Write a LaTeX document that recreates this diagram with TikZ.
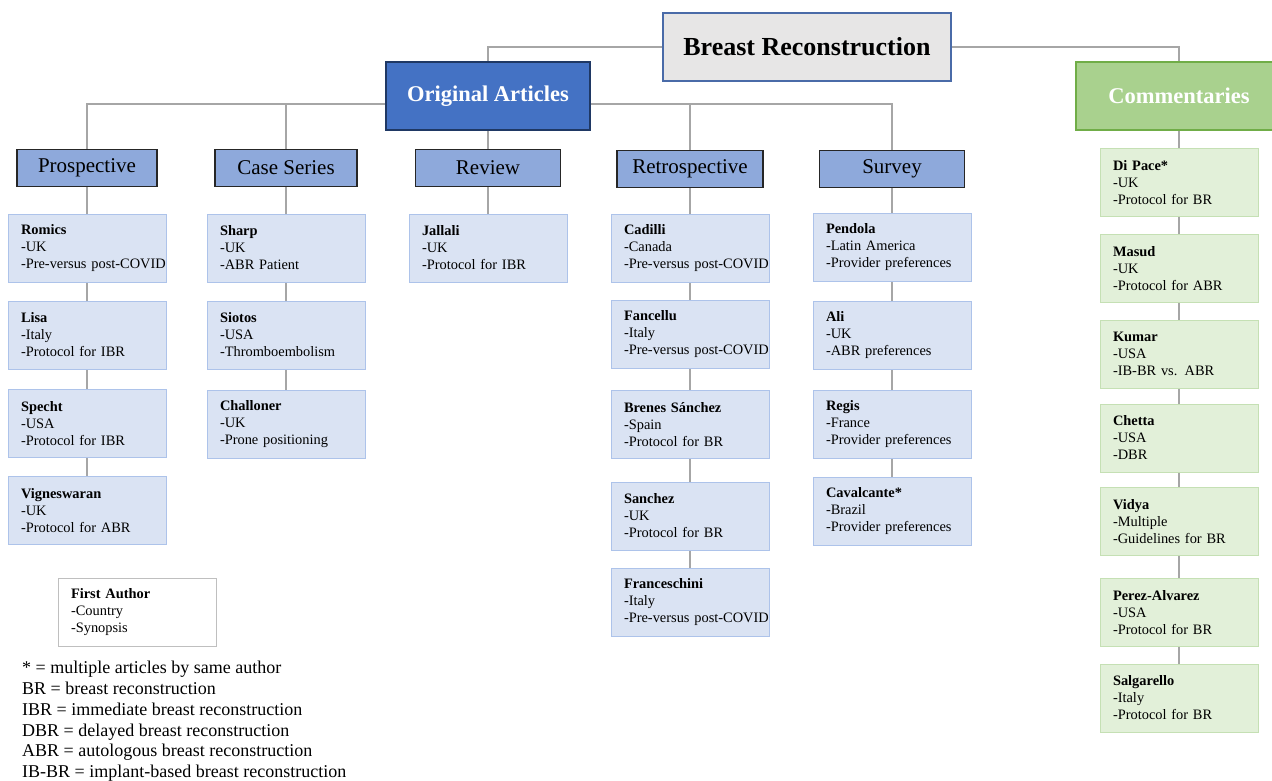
\documentclass[tikz,border=0pt]{standalone}
\usepackage{fontspec}
\setmainfont{Liberation Serif}
\usetikzlibrary{backgrounds}

\definecolor{linkgray}{HTML}{A6A6A6}
\definecolor{topfill}{HTML}{E7E6E6}
\definecolor{topline}{HTML}{4A6BA8}
\definecolor{origfill}{HTML}{4472C4}
\definecolor{origline}{HTML}{1F3864}
\definecolor{typefill}{HTML}{8EA9DB}
\definecolor{typeline}{HTML}{262626}
\definecolor{cardfill}{HTML}{DAE3F3}
\definecolor{cardline}{HTML}{ADC3EA}
\definecolor{commfill}{HTML}{A9D18E}
\definecolor{commline}{HTML}{70AD47}
\definecolor{notefill}{HTML}{E2F0D9}
\definecolor{noteline}{HTML}{C5E0B4}
\definecolor{keyline}{HTML}{BFBFBF}

\newcommand{\cardtext}[3]{\textbf{#1}\\\mbox{-#2}\\\mbox{-#3}}

\tikzset{
  link/.style={draw=linkgray, line width=2.8},
  topbox/.style={draw=topline, fill=topfill, line width=1.2, minimum width=288, minimum height=68,
    font=\fontsize{26}{30}\selectfont\bfseries},
  origbox/.style={draw=origline, fill=origfill, line width=1.5, minimum width=204, minimum height=68,
    text=white, font=\fontsize{22.5}{26}\selectfont\bfseries},
  commbox/.style={draw=commline, fill=commfill, line width=1.5, minimum width=206, minimum height=68,
    text=white, font=\fontsize{22.5}{26}\selectfont\bfseries},
  typebox/.style={draw=typeline, fill=typefill, line width=1.2, minimum height=37,
    font=\fontsize{21}{24}\selectfont},
  card/.style={draw=cardline, fill=cardfill, line width=0.9, text width=132, inner xsep=13,
    inner ysep=0, minimum height=68, align=left, font=\fontsize{14.4}{17}\selectfont},
  note/.style={card, draw=noteline, fill=notefill},
  keybox/.style={card, draw=keyline, fill=white},
  legendtext/.style={inner sep=0, align=left, font=\fontsize{18}{20.8}\selectfont}
}

\begin{document}
\begin{tikzpicture}[x=1pt, y=-1pt]
\useasboundingbox (0,0) rectangle (1272,781);

% top levels
\node[topbox] (top) at (807,47) {Breast Reconstruction};
\node[origbox] (orig) at (488,96) {Original Articles};
\node[commbox] (comm) at (1179,96) {Commentaries};

% study types
\node[typebox, minimum width=140] (prosp) at (87,168) {Prospective};
\node[typebox, minimum width=142] (cases) at (286,168) {Case Series};
\node[typebox, minimum width=145] (review) at (488,168) {Review};
\node[typebox, minimum width=146] (retro) at (690,169) {Retrospective};
\node[typebox, minimum width=145] (survey) at (892,169) {Survey};

% prospective
\node[card] (romics) at (87,248) {\cardtext{Romics}{UK}{Pre-versus post-COVID}};
\node[card] (lisa) at (87,335) {\cardtext{Lisa}{Italy}{Protocol for IBR}};
\node[card] (specht) at (87,423.5) {\cardtext{Specht}{USA}{Protocol for IBR}};
\node[card] (vign) at (87,510.5) {\cardtext{Vigneswaran}{UK}{Protocol for ABR}};

% case series
\node[card] (sharp) at (286,248) {\cardtext{Sharp}{UK}{ABR Patient}};
\node[card] (siotos) at (286,335) {\cardtext{Siotos}{USA}{Thromboembolism}};
\node[card] (challoner) at (286,424.5) {\cardtext{Challoner}{UK}{Prone positioning}};

% review
\node[card] (jallali) at (488,248) {\cardtext{Jallali}{UK}{Protocol for IBR}};

% retrospective
\node[card] (cadilli) at (690,248) {\cardtext{Cadilli}{Canada}{Pre-versus post-COVID}};
\node[card] (fancellu) at (690,334) {\cardtext{Fancellu}{Italy}{Pre-versus post-COVID}};
\node[card] (brenes) at (690,424.5) {\cardtext{Brenes Sánchez}{Spain}{Protocol for BR}};
\node[card] (sanchez) at (690,516) {\cardtext{Sanchez}{UK}{Protocol for BR}};
\node[card] (francesc) at (690,602) {\cardtext{Franceschini}{Italy}{Pre-versus post-COVID}};

% survey
\node[card] (pendola) at (892,247.5) {\cardtext{Pendola}{Latin America}{Provider preferences}};
\node[card] (ali) at (892,335.5) {\cardtext{Ali}{UK}{ABR preferences}};
\node[card] (regis) at (892,424.5) {\cardtext{Regis}{France}{Provider preferences}};
\node[card] (cavalc) at (892,511) {\cardtext{Cavalcante*}{Brazil}{Provider preferences}};

% commentaries
\node[note] (dipace) at (1179,182.5) {\cardtext{Di Pace*}{UK}{Protocol for BR}};
\node[note] (masud) at (1179,268.5) {\cardtext{Masud}{UK}{Protocol for ABR}};
\node[note] (kumar) at (1179,354) {\cardtext{Kumar}{USA}{IB-BR vs. ABR}};
\node[note] (chetta) at (1179,438) {\cardtext{Chetta}{USA}{DBR}};
\node[note] (vidya) at (1179,521.5) {\cardtext{Vidya}{Multiple}{Guidelines for BR}};
\node[note] (perez) at (1179,612.5) {\cardtext{Perez-Alvarez}{USA}{Protocol for BR}};
\node[note] (salgar) at (1179,698) {\cardtext{Salgarello}{Italy}{Protocol for BR}};

% key
\node[keybox] (key) at (137,612.5) {\cardtext{First Author}{Country}{Synopsis}};
\node[legendtext, anchor=north west] (abbrev) at (22,661) {* = multiple articles by same author\\
  BR = breast reconstruction\\
  IBR = immediate breast reconstruction\\
  DBR = delayed breast reconstruction\\
  ABR = autologous breast reconstruction\\
  IB-BR = implant-based breast reconstruction};

% connectors
\begin{scope}[on background layer]
\coordinate (lbus) at ([yshift=-8pt]orig.west);
\coordinate (rbus) at ([yshift=-8pt]orig.east);
\draw[link] (top.west) -| (orig.north);
\draw[link] (top.east) -| (comm.north);
\draw[link] (lbus) -| (prosp.north);
\draw[link] (cases.north) -- (cases.north |- lbus);
\draw[link] (orig) -- (review);
\draw[link] (rbus) -| (survey.north);
\draw[link] (retro.north) -- (retro.north |- rbus);
\draw[link] (prosp) -- (romics) -- (lisa) -- (specht) -- (vign);
\draw[link] (cases) -- (sharp) -- (siotos) -- (challoner);
\draw[link] (review) -- (jallali);
\draw[link] (retro) -- (cadilli) -- (fancellu) -- (brenes) -- (sanchez) -- (francesc);
\draw[link] (survey) -- (pendola) -- (ali) -- (regis) -- (cavalc);
\draw[link] (comm) -- (dipace) -- (masud) -- (kumar) -- (chetta) -- (vidya) -- (perez) -- (salgar);
\end{scope}
\end{tikzpicture}
\end{document}
